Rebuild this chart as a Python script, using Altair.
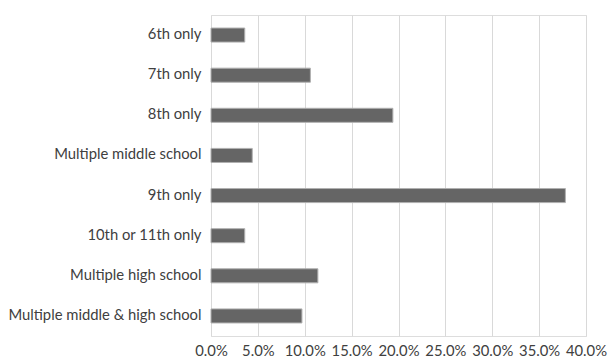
import altair as alt
import pandas as pd

categories = ["6th only", "7th only", "8th only", "Multiple middle school",
              "9th only", "10th or 11th only", "Multiple high school",
              "Multiple middle & high school"]
values = [0.036, 0.106, 0.194, 0.044, 0.378, 0.036, 0.114, 0.097]
x_ticks = [0, 0.05, 0.10, 0.15, 0.20, 0.25, 0.30, 0.35, 0.40]

df = pd.DataFrame({"category": categories, "value": values})

font = "Lato"
chart = alt.Chart(df).mark_bar(
    color="#656565", stroke="#b0b0b0", strokeWidth=1
).encode(
    x=alt.X("value:Q",
            scale=alt.Scale(domain=[0, 0.40], nice=False),
            axis=alt.Axis(format=".1%", values=x_ticks, title=None, domain=False,
                          ticks=False, grid=True, gridColor="#d9d9d9",
                          labelFontSize=14.8, labelColor="#404040", labelFont=font,
                          labelPadding=7, labelOverlap=False, labelFlush=False)),
    y=alt.Y("category:N", sort=categories,
            scale=alt.Scale(paddingInner=0.65, paddingOuter=0.325),
            axis=alt.Axis(title=None, domain=False, ticks=False,
                          labelFontSize=14.8, labelColor="#404040", labelFont=font,
                          labelPadding=10, labelLimit=300)),
).properties(
    width=375, height=321,
    autosize=alt.AutoSizeParams(type="none"),
    padding={"left": 211, "top": 15, "right": 25, "bottom": 24},
).configure_view(stroke=None).configure(background="white")

chart.save("out.html", embed_options={"renderer": "svg", "actions": False})
